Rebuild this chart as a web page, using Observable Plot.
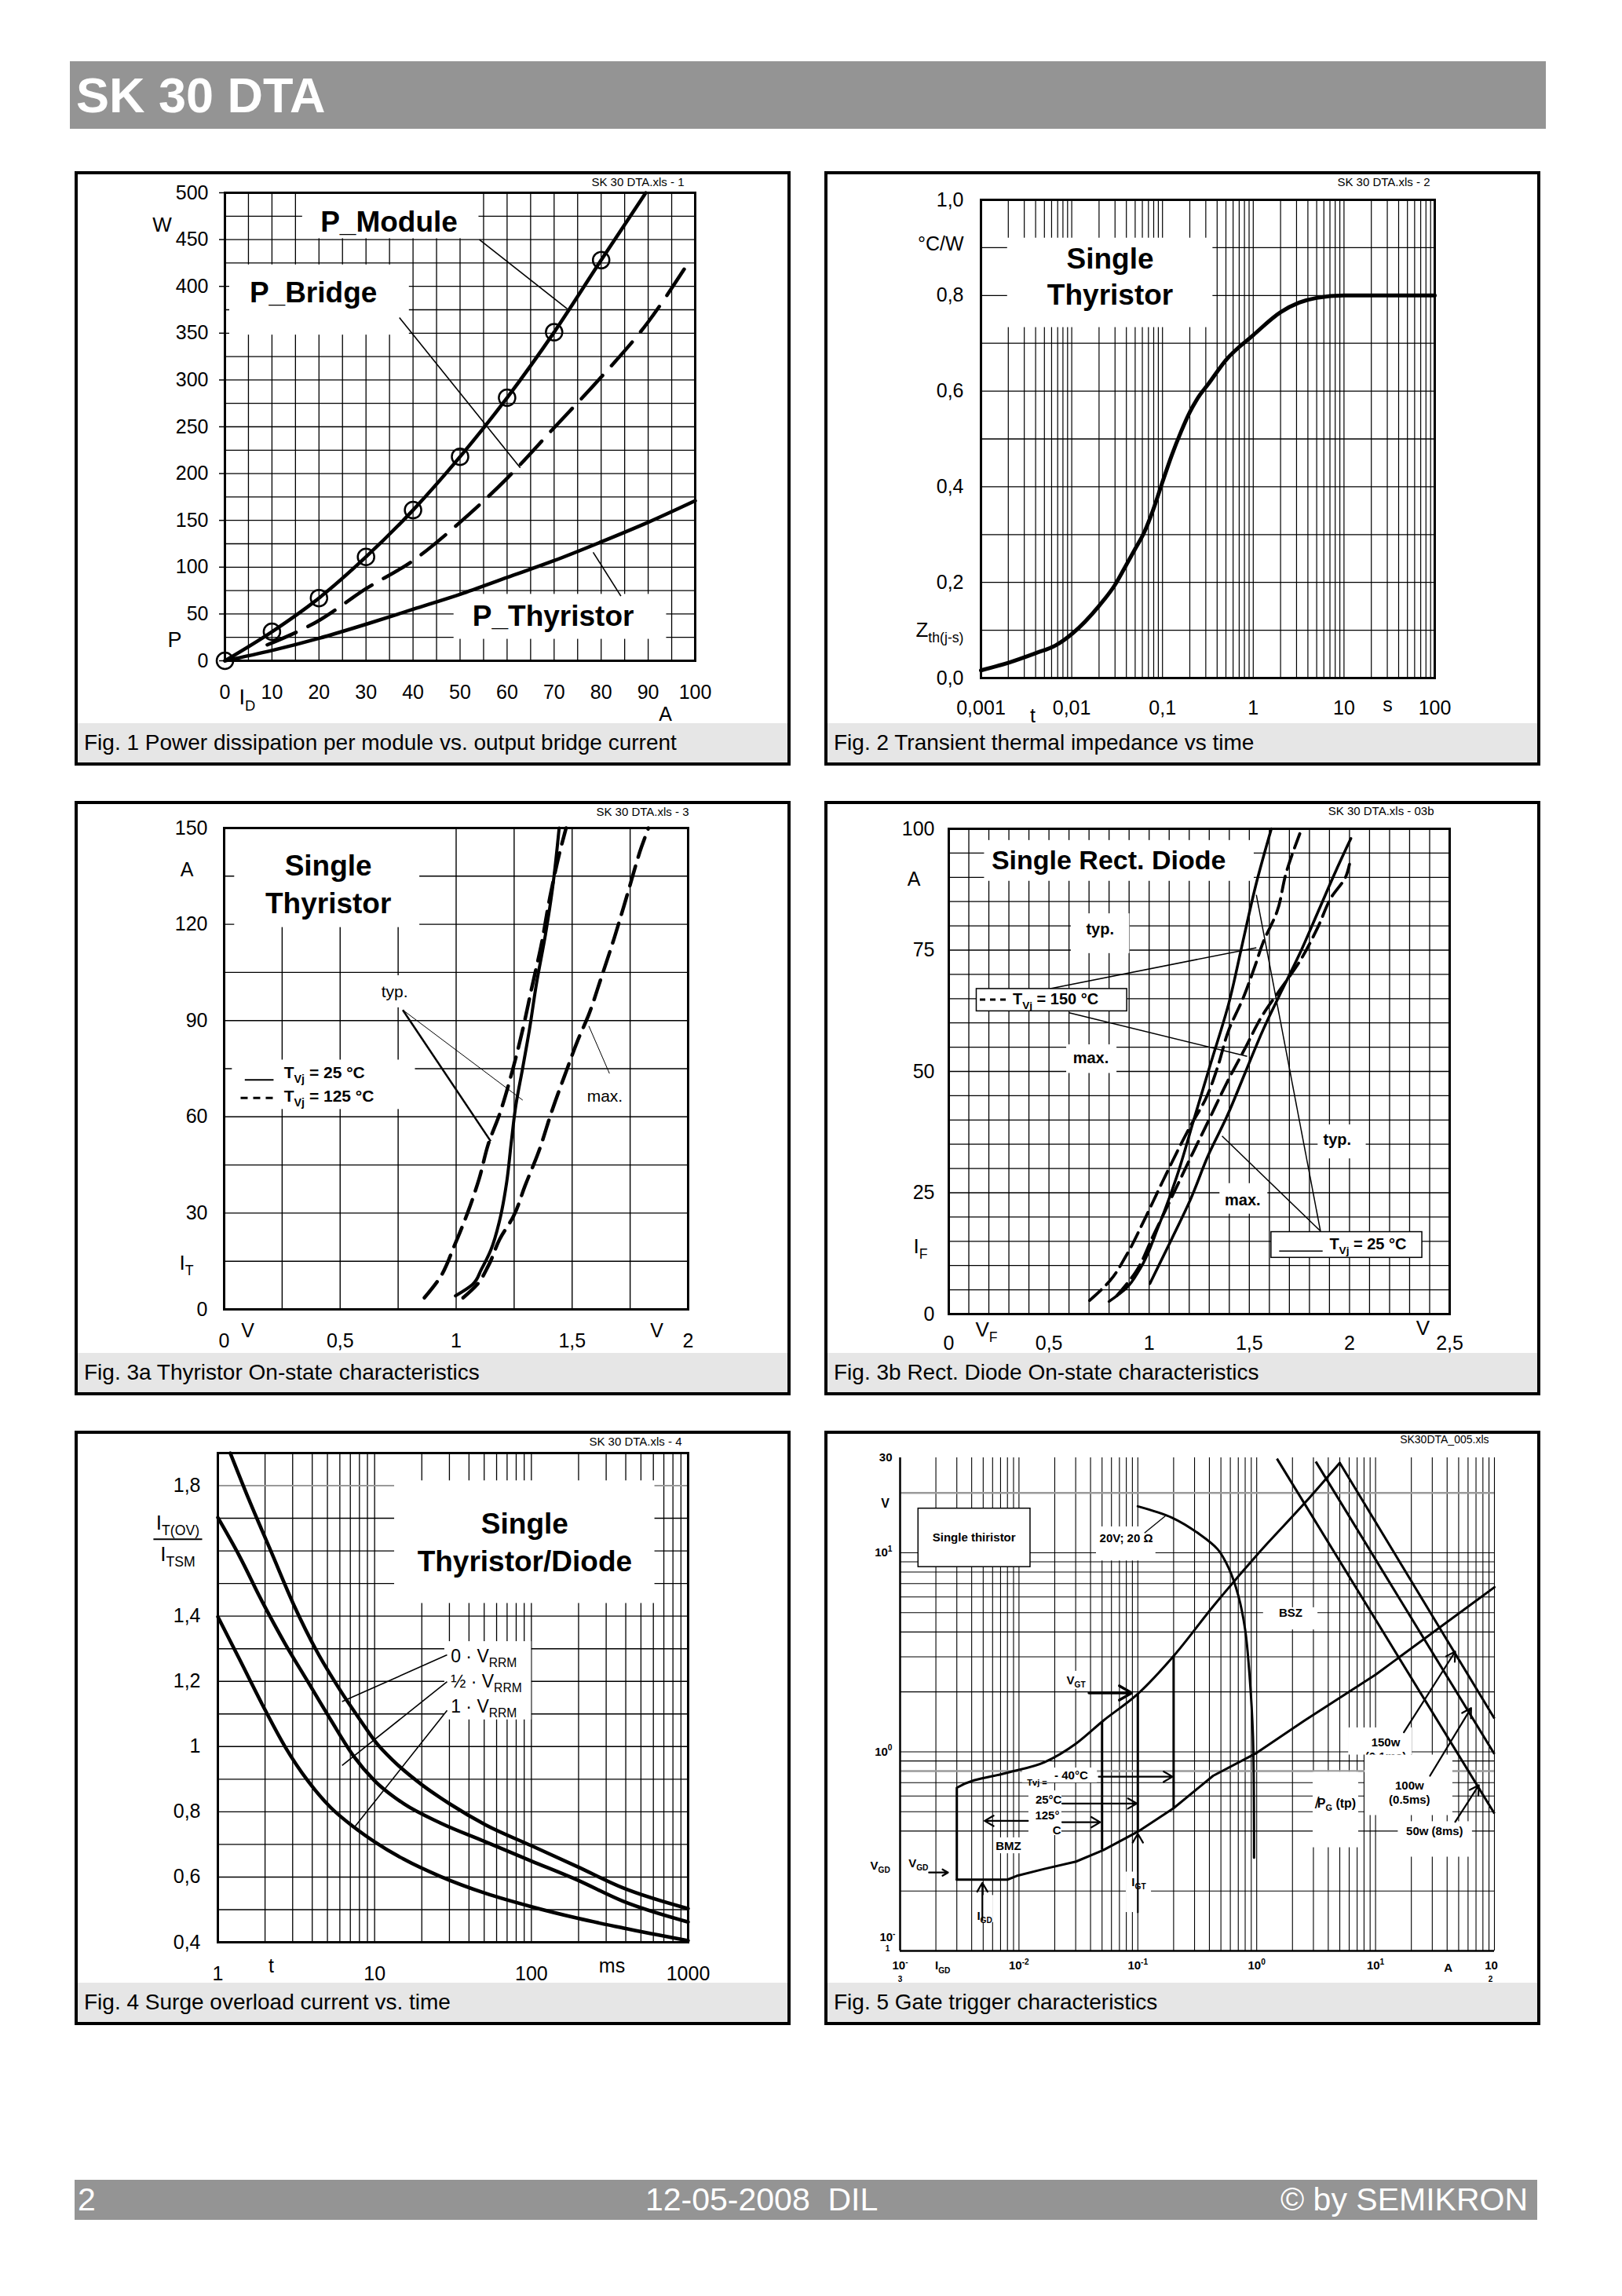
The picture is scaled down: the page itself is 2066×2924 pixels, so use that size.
<!DOCTYPE html>
<html><head><meta charset="utf-8">
<script src="https://cdn.jsdelivr.net/npm/d3@7"></script>
<script src="https://cdn.jsdelivr.net/npm/@observablehq/plot@0.6"></script>
<style>
html,body{margin:0;padding:0;background:#fff;}
body{width:2066px;height:2924px;position:relative;overflow:hidden;font-family:'Liberation Sans',Arial,Helvetica,sans-serif;}
.bar{position:absolute;background:#949494;color:#fff;}
.txt{position:absolute;color:#fff;white-space:pre;}
.panel{position:absolute;width:912px;height:757px;border:4px solid #000;box-sizing:border-box;background:#fff;}
.panel svg{display:block;}
.cap{height:50px;background:#e6e6e6;font-size:28px;line-height:50px;padding-left:8px;white-space:nowrap;color:#000;}
</style></head><body>
<div class="bar" style="left:89px;top:78px;width:1880px;height:86px;"></div>
<div class="txt" style="left:97px;top:78px;height:86px;line-height:86px;font-size:63px;font-weight:bold;">SK 30 DTA</div>
<div class="bar" style="left:95px;top:2776px;width:1863px;height:51px;"></div>
<div class="txt" style="left:99px;top:2776px;line-height:51px;font-size:41px;">2</div>
<div class="txt" style="left:822px;top:2776px;line-height:51px;font-size:41px;">12-05-2008  DIL</div>
<div class="txt" style="right:120px;top:2776px;line-height:51px;font-size:41px;">© by SEMIKRON</div>
<script>
const FONT = "'Liberation Sans', Arial, Helvetica, sans-serif";
const comma = d => String(d).replace(".", ",");

// ---------------- Fig. 1 data ----------------
const f1ModuleI = [0, 10, 20, 30, 40, 50, 60, 70, 80, 89.5];
const f1ModuleP = [0, 31, 67, 111, 161, 218, 281, 351, 428, 500];
const f1MarkerI = [0, 10, 20, 30, 40, 50, 60, 70, 80];
const f1MarkerP = [0, 31, 67, 111, 161, 218, 281, 351, 428];
const f1BridgeI = [9, 20, 30, 40, 50, 60, 70, 80, 90, 98];
const f1BridgeP = [17, 43, 77, 107, 148, 195, 249, 303, 362, 421];
const f1ThyI = [0, 10, 20, 30, 40, 50, 60, 70, 80, 90, 100];
const f1ThyP = [0, 11, 24, 39, 55, 71, 89, 107, 127, 148, 171];
const f1XTicks = [0, 10, 20, 30, 40, 50, 60, 70, 80, 90, 100];
const f1YTicks = [0, 50, 100, 150, 200, 250, 300, 350, 400, 450, 500];
const f1Labels = [
  {x: 34.9, y: 468, text: "P_Module"},
  {x: 18.8, y: 392.6, text: "P_Bridge"},
  {x: 69.8, y: 47, text: "P_Thyristor"}
];
const f1Boxes = [
  {x1: 16.5, x2: 54, y1: 451, y2: 500},
  {x1: 1, x2: 39.2, y1: 348, y2: 423},
  {x1: 48.7, x2: 93.9, y1: 23, y2: 71}
];
const f1Leaders = [
  {x1: 54.1, y1: 450, x2: 72.8, y2: 376},
  {x1: 37.1, y1: 366.7, x2: 62.8, y2: 206.1},
  {x1: 84.2, y1: 69.1, x2: 78.3, y2: 115.9}
];

// ---------------- Fig. 2 data ----------------
const f2Time = [0.001, 0.002, 0.004, 0.0066, 0.01, 0.02, 0.03, 0.04, 0.05, 0.063, 0.08, 0.1, 0.126, 0.16, 0.2, 0.25, 0.32, 0.5, 1, 2, 3.2, 5, 10, 100];
const f2Zth = [0.016, 0.032, 0.052, 0.068, 0.092, 0.151, 0.195, 0.237, 0.27, 0.305, 0.355, 0.41, 0.465, 0.515, 0.556, 0.588, 0.615, 0.665, 0.717, 0.765, 0.785, 0.795, 0.8, 0.8];
const f2XTicks = [0.001, 0.01, 0.1, 1, 10, 100];
const f2XLabels = {0.001: "0,001", 0.01: "0,01", 0.1: "0,1", 1: "1", 10: "10", 100: "100"};
const f2YTicks = [0, 0.2, 0.4, 0.6, 0.8, 1.0];
const f2Box = [{x1: 0.00196, x2: 0.359, y1: 0.733, y2: 0.92}];
const f2Labels = [{x: 0.0265, y: 0.8765, text: "Single"}, {x: 0.0265, y: 0.80, text: "Thyristor"}];

// ---------------- Fig. 3a data ----------------
const f3aTyp25V = [0.997, 1.07, 1.109, 1.149, 1.188, 1.218, 1.237, 1.257, 1.287, 1.316, 1.346, 1.385, 1.415, 1.444];
const f3aTyp25I = [4.2, 7.7, 12.5, 18.4, 27.9, 39.7, 51.6, 63.4, 75.3, 87.2, 101.4, 116.8, 131, 150];
const f3aTyp125V = [0.863, 0.932, 0.991, 1.05, 1.1, 1.139, 1.188, 1.237, 1.287, 1.326, 1.366, 1.405, 1.444, 1.474];
const f3aTyp125I = [3.6, 10.1, 19.6, 30.2, 40.9, 51.6, 61, 72.9, 87.2, 100.2, 113.2, 128.7, 141.7, 150];
const f3aMax125V = [1.03, 1.09, 1.139, 1.188, 1.247, 1.297, 1.356, 1.415, 1.474, 1.523, 1.572, 1.622, 1.681, 1.74, 1.799, 1.829];
const f3aMax125I = [3.6, 7.7, 13.6, 21.9, 29, 38.5, 49.2, 62.3, 74.1, 83.6, 91.9, 102.6, 115.6, 129.8, 144.1, 150];
const f3aXTicks = [0, 0.5, 1, 1.5, 2];
const f3aYTicks = [0, 30, 60, 90, 120, 150];
const f3aBoxes = [
  {x1: 0.045, x2: 0.843, y1: 119, y2: 150},
  {x1: 0.035, x2: 0.824, y1: 62.3, y2: 77.7},
  {x1: 0.66, x2: 0.82, y1: 94, y2: 104}
];
const f3aLeadersThick = [{x1: 0.770, y1: 93.3, x2: 1.149, y2: 52.4}];
const f3aLeadersThin = [{x1: 0.770, y1: 93.3, x2: 1.287, y2: 65.2}, {x1: 1.661, y1: 73.5, x2: 1.572, y2: 88.3}];
const f3aLegendSolid = [{x1: 0.089, x2: 0.213, y: 71.5}];
const f3aLegendDash = [{x1: 0.071, x2: 0.223, y: 65.9}];
const f3aBig = [{x: 0.449, y: 138.1, text: "Single"}, {x: 0.449, y: 126.3, text: "Thyristor"}];
const f3aSmall = [{x: 0.735, y: 99, text: "typ."}, {x: 1.641, y: 66.4, text: "max."}];
const f3aLegendText = [{x: 0.258, y: 73.8, text: "T_{Vj} = 25 °C"}, {x: 0.258, y: 66.4, text: "T_{Vj} = 125 °C"}];

// ---------------- Fig. 3b data ----------------
const f3bTyp25V = [0.80, 0.885, 0.953, 1.045, 1.136, 1.227, 1.307, 1.398, 1.467, 1.535, 1.61];
const f3bTyp25I = [2.6, 5.3, 9.2, 17.9, 28.1, 40.6, 51.6, 64.1, 76.6, 88.8, 100];
const f3bTyp150V = [0.703, 0.805, 0.885, 0.976, 1.067, 1.204, 1.284, 1.341, 1.398, 1.467, 1.524, 1.569, 1.638, 1.683, 1.752];
const f3bTyp150I = [2.8, 6.9, 12, 19.4, 27.3, 38.6, 44.5, 50.8, 58.6, 64.9, 71.2, 76.6, 82.9, 90.8, 99];
const f3bMax25V = [1.004, 1.113, 1.204, 1.296, 1.387, 1.478, 1.569, 1.66, 1.752, 1.843, 1.934, 2.007];
const f3bMax25I = [6.3, 15.5, 23.4, 32.8, 40.6, 49.6, 58.6, 66.5, 74.3, 82.9, 91.5, 98];
const f3bMax150V = [0.839, 0.93, 1.022, 1.113, 1.204, 1.296, 1.387, 1.478, 1.569, 1.66, 1.752, 1.843, 1.911, 1.98, 2.0];
const f3bMax150I = [3.8, 8.5, 16.3, 24.1, 32, 39.8, 47.6, 54.7, 61.8, 67.2, 72.7, 79.8, 86, 90, 92.7];
const f3bXTicks = [0, 0.5, 1, 1.5, 2, 2.5];
const f3bYTicks = [0, 25, 50, 75, 100];
const f3bBoxes = [
  {x1: 0.178, x2: 1.524, y1: 89.2, y2: 97.6},
  {x1: 0.611, x2: 0.903, y1: 74.3, y2: 82.5},
  {x1: 0.588, x2: 0.839, y1: 49.6, y2: 55.5},
  {x1: 1.843, x2: 2.083, y1: 32, y2: 39},
  {x1: 1.353, x2: 1.592, y1: 20.6, y2: 26.9}
];
const f3bLegendBoxes = [
  {x1: 0.139, x2: 0.890, y1: 62.4, y2: 67.0},
  {x1: 1.61, x2: 2.363, y1: 11.6, y2: 16.9}
];
const f3bLeaders = [
  {x1: 0.497, y1: 67.0, x2: 1.535, y2: 75.5},
  {x1: 0.600, y1: 62.1, x2: 1.489, y2: 53.1},
  {x1: 1.535, y1: 86.4, x2: 1.855, y2: 17.1},
  {x1: 1.364, y1: 36.7, x2: 1.855, y2: 17.1}
];
const f3bLegendDash = [{x1: 0.155, x2: 0.303, y: 64.8}];
const f3bLegendSolid = [{x1: 1.649, x2: 1.866, y: 13.0}];
const f3bSmall = [
  {x: 0.755, y: 79.2, text: "typ."}, {x: 0.709, y: 52.7, text: "max."},
  {x: 1.939, y: 35.9, text: "typ."}, {x: 1.467, y: 23.5, text: "max."}
];
const f3bLegendText = [{x: 0.319, y: 64.8, text: "T_{Vj} = 150 °C"}, {x: 1.9, y: 14.4, text: "T_{Vj} = 25 °C"}];

// ---------------- Fig. 4 data ----------------
const f4T0 = [1.2, 1.57, 2.19, 3.06, 4.28, 5.99, 8.4, 10, 13.4, 20, 30, 51, 100, 196, 383, 1000];
const f4Y0 = [1.9, 1.76, 1.597, 1.433, 1.292, 1.175, 1.07, 1.018, 0.953, 0.883, 0.825, 0.76, 0.696, 0.632, 0.567, 0.503];
const f4T = [1, 1.37, 1.92, 2.68, 3.75, 5.25, 7.34, 10, 15.3, 26.2, 51, 100, 196, 383, 1000];
const f4YHalf = [1.702, 1.585, 1.444, 1.316, 1.199, 1.082, 0.971, 0.895, 0.825, 0.766, 0.708, 0.649, 0.591, 0.526, 0.462];
const f4YOne = [1.398, 1.269, 1.129, 1.0, 0.895, 0.813, 0.754, 0.708, 0.655, 0.602, 0.55, 0.509, 0.474, 0.444, 0.405];
const f4XTicks = [1, 10, 100, 1000];
const f4YTicks = [0.4, 0.6, 0.8, 1, 1.2, 1.4, 1.8];
const f4Boxes = [
  {x1: 13.4, x2: 613, y1: 1.439, y2: 1.815},
  {x1: 28, x2: 100, y1: 1.082, y2: 1.322}
];
const f4Leaders = [
  {x1: 29, y1: 1.281, x2: 6.2, y2: 1.138},
  {x1: 29, y1: 1.199, x2: 6.2, y2: 0.942},
  {x1: 29, y1: 1.111, x2: 7.33, y2: 0.749}
];
const f4Big = [{x: 90.7, y: 1.681, text: "Single"}, {x: 90.7, y: 1.567, text: "Thyristor/Diode"}];
const f4Vrrm = [
  {x: 30.6, y: 1.277, text: "0 · V_{RRM}"},
  {x: 30.6, y: 1.199, text: "½ · V_{RRM}"},
  {x: 30.6, y: 1.123, text: "1 · V_{RRM}"}
];
const f4FracLine = [{x1: 0.388, x2: 0.794, y: 1.636}];

// ---------------- Fig. 5 data ----------------
const f5UpperI = [0.003, 0.003, 0.008, 0.0163, 0.0302, 0.0513, 0.1, 0.2, 0.43, 1.04, 2.52, 5.0];
const f5UpperV = [0.228, 0.66, 0.786, 0.885, 1.10, 1.435, 1.955, 3.03, 5.38, 9.98, 17.7, 28.3];
const f5LowerI = [0.003, 0.008, 0.00955, 0.0163, 0.0302, 0.0513, 0.1, 0.2, 0.43, 1.0, 2.52, 10, 100];
const f5LowerV = [0.228, 0.228, 0.238, 0.258, 0.281, 0.321, 0.397, 0.521, 0.758, 0.988, 1.435, 2.44, 6.71];
const f5Verticals = [{i: 0.05, v1: 0.321, v2: 1.42}, {i: 0.1, v1: 0.397, v2: 1.955}, {i: 0.2, v1: 0.521, v2: 3.03}];
const f5LoadI = [0.1, 0.194, 0.33, 0.47, 0.58, 0.70, 0.80, 0.87, 0.93, 0.95];
const f5LoadV = [17.1, 15.0, 12.4, 10.4, 8.4, 6.1, 4.1, 2.44, 1.2, 0.294];
const f5Power = [
  {w: "50w", i1: 1.48, v1: 29.7, i2: 100, v2: 0.49},
  {w: "100w", i1: 3.14, v1: 28.7, i2: 100, v2: 0.975},
  {w: "150w", i1: 5.0, v1: 28.3, i2: 100, v2: 1.47}
];
const f5Arrows = [
  {x1: 0.0469, y1: 0.75, x2: 0.196, y2: 0.75},
  {x1: 0.0231, y1: 0.55, x2: 0.0981, y2: 0.55},
  {x1: 0.0231, y1: 0.443, x2: 0.0483, y2: 0.443},
  {x1: 0.0119, y1: 0.45, x2: 0.00514, y2: 0.45},
  {x1: 0.00175, y1: 0.2475, x2: 0.00253, y2: 0.2475},
  {x1: 0.00492, y1: 0.1424, x2: 0.00492, y2: 0.2199},
  {x1: 0.1, y1: 0.1562, x2: 0.1, y2: 0.388},
  {x1: 17.3, y1: 1.254, x2: 46.8, y2: 3.19},
  {x1: 28.7, y1: 0.758, x2: 63.7, y2: 1.66},
  {x1: 46.8, y1: 0.445, x2: 74, y2: 0.68}
];
const f5ArrowVGT = [{x1: 0.0388, y1: 1.976, x2: 0.0888, y2: 1.976}];
const f5LoadLeader = [{x1: 0.1138, y1: 12.56, x2: 0.17, y2: 15.3}];
const f5Box150 = [{x1: 5.93, x2: 20.3, y1: 0.964, y2: 1.32}];
const f5Boxes = [
  {x1: 0.0448, x2: 0.1417, y1: 9.1, y2: 13.5},
  {x1: 1.14, x2: 3.27, y1: 4.1, y2: 5.3},
  {x1: 0.0242, x2: 0.0394, y1: 2.06, y2: 2.54},
  {x1: 0.0107, x2: 0.0456, y1: 0.698, y2: 0.83},
  {x1: 0.0121, x2: 0.0229, y1: 0.38, y2: 0.637},
  {x1: 0.0063, x2: 0.0109, y1: 0.308, y2: 0.37},
  {x1: 0.0799, x2: 0.13, y1: 0.156, y2: 0.249},
  {x1: 0.0045, x2: 0.0061, y1: 0.139, y2: 0.19},
  {x1: 2.98, x2: 7.2, y1: 0.33, y2: 0.79},
  {x1: 8.14, x2: 44.6, y1: 0.479, y2: 0.964},
  {x1: 15.5, x2: 65.2, y1: 0.296, y2: 0.446}
];
const f5ThirBox = [{x1: 0.001425, x2: 0.01248, y1: 8.477, y2: 16.67}];
const f5Texts = [
  {x: 0.00419, y: 11.88, text: "Single thiristor"},
  {x: 0.0799, y: 11.77, text: "20V; 20 Ω"},
  {x: 1.93, y: 4.98, text: "BSZ"},
  {x: 0.0302, y: 2.29, text: "V_{GT}"},
  {x: 0.0275, y: 0.758, text: "- 40°C"},
  {x: 0.01776, y: 0.571, text: "25°C"},
  {x: 0.0173, y: 0.477, text: "125°"},
  {x: 0.0208, y: 0.404, text: "C"},
  {x: 0.00815, y: 0.3345, text: "BMZ"},
  {x: 0.001425, y: 0.276, text: "V_{GD}"},
  {x: 0.00514, y: 0.1498, text: "I_{GD}"},
  {x: 0.1018, y: 0.2205, text: "I_{GT}"},
  {x: 12.17, y: 1.114, text: "150w"},
  {x: 19.3, y: 0.675, text: "100w"},
  {x: 19.3, y: 0.571, text: "(0.5ms)"},
  {x: 31.4, y: 0.4, text: "50w (8ms)"}
];
const f5Clipped = [{x: 12.17, y: 0.949, text: "(0.1ms)"}];
const f5Tvj = [{x: 0.01422, y: 0.70, text: "Tvj ="}];
const f5PG = [{x: 3.23, y: 0.551, text: "P_{G} (tp)"}];
const f5PGslash = [{x: 3.08, y: 0.551, text: "/"}];
const f5XTicks = [0.01, 0.1, 1, 10];
const f5XLabels = {0.01: "10^{-2}", 0.1: "10^{-1}", 1: "10^{0}", 10: "10^{1}"};
const f5YTicks = [30, 10, 1];
const f5YLabels = {30: "30", 10: "10^{1}", 1: "10^{0}"};
const f5GridY = [0.2, 0.4, 0.5, 0.6, 0.7, 0.9, 1, 2, 3, 4, 5, 6, 7, 8, 9, 10];
const f5GridYGray = [0.8, 20];

// ---------------- helpers ----------------
const pts = (xs, ys) => xs.map((x, i) => ({x, y: ys[i]}));
const logGrid = (lo, hi) => {
  const out = [];
  for (let e = lo; e < hi; e++) for (let m = 1; m < 10; m++) out.push(+(m * Math.pow(10, e)).toPrecision(6));
  out.push(Math.pow(10, hi));
  return out;
};
const lab = (text, anchor, dx, dy, o = {}) =>
  Plot.text([text], {text: d => d, frameAnchor: anchor, dx, dy, textAnchor: "middle", lineAnchor: "middle", ...o});
const style = (size, extra = {}) => ({fontFamily: FONT, fontSize: size, color: "#000", background: "#fff", overflow: "visible", ...extra});
const K = "#000";

function richify(root) {
  const NS = "http://www.w3.org/2000/svg";
  const els = Array.from(root.querySelectorAll("text, tspan"));
  for (const el of els) {
    if (el.children.length) continue;
    const s = el.textContent;
    if (!/[_^]\{/.test(s)) continue;
    const fs = parseFloat(getComputedStyle(el).fontSize) || 20;
    el.textContent = "";
    const re = /([_^])\{([^}]*)\}/g;
    let last = 0, m, shift = 0;
    const add = (txt, size, target) => {
      const t = document.createElementNS(NS, "tspan");
      t.textContent = txt;
      if (size) t.setAttribute("font-size", size);
      const d = target - shift;
      if (d) t.setAttribute("dy", d);
      shift = target;
      el.appendChild(t);
    };
    while ((m = re.exec(s))) {
      if (m.index > last) add(s.slice(last, m.index), null, 0);
      add(m[2], fs * 0.68, m[1] === "_" ? fs * 0.28 : -fs * 0.42);
      last = re.lastIndex;
    }
    if (last < s.length) add(s.slice(last), null, 0);
  }
}

function addPanel(left, top, caption, svg) {
  const div = document.createElement("div");
  div.className = "panel";
  div.style.left = left + "px";
  div.style.top = top + "px";
  div.appendChild(svg);
  const cap = document.createElement("div");
  cap.className = "cap";
  cap.textContent = caption;
  div.appendChild(cap);
  document.body.appendChild(div);
  richify(svg);
}

// ---------------- Fig. 1 ----------------
const fig1 = Plot.plot({
  width: 904, height: 699, marginLeft: 187, marginRight: 118, marginTop: 23, marginBottom: 80,
  style: style("25px"),
  x: {domain: [0, 100]}, y: {domain: [0, 500]},
  marks: [
    Plot.ruleX(d3.range(0, 101, 5), {stroke: K, strokeWidth: 1.3}),
    Plot.ruleY(d3.range(0, 501, 25), {stroke: K, strokeWidth: 1.3}),
    Plot.rect(f1Boxes, {x1: "x1", x2: "x2", y1: "y1", y2: "y2", fill: "#fff"}),
    Plot.link(f1Leaders, {x1: "x1", y1: "y1", x2: "x2", y2: "y2", stroke: K, strokeWidth: 1.6}),
    Plot.line(pts(f1ThyI, f1ThyP), {x: "x", y: "y", curve: "monotone-x", stroke: K, strokeWidth: 4.5}),
    Plot.line(pts(f1ModuleI, f1ModuleP), {x: "x", y: "y", curve: "monotone-x", stroke: K, strokeWidth: 4.5}),
    Plot.line(pts(f1BridgeI, f1BridgeP), {x: "x", y: "y", curve: "monotone-x", stroke: K, strokeWidth: 4.5, strokeDasharray: "40,17"}),
    Plot.dot(pts(f1MarkerI, f1MarkerP), {x: "x", y: "y", r: 10.5, stroke: K, strokeWidth: 2.5, fill: "none"}),
    Plot.text(f1Labels, {x: "x", y: "y", text: "text", fontSize: 37, fontWeight: "bold"}),
    Plot.frame({stroke: K, strokeWidth: 3}),
    Plot.axisY(f1YTicks, {tickSize: 7, tickPadding: 14, label: null, strokeWidth: 1.5}),
    Plot.axisX(f1XTicks, {tickSize: 0, tickPadding: 31, label: null}),
    lab("W", "top-left", -80, 41, {fontSize: 26}),
    lab("P", "bottom-left", -64, -26, {fontSize: 27}),
    lab("I_{D}", "bottom-left", 18, 47, {fontSize: 27, textAnchor: "start"}),
    lab("A", "bottom-right", -38, 68, {fontSize: 25}),
    lab("SK 30 DTA.xls - 1", "top-right", -14, -13, {fontSize: 15, textAnchor: "end"})
  ]
});
addPanel(95, 218, "Fig. 1 Power dissipation per module vs. output bridge current", fig1);

// ---------------- Fig. 2 ----------------
const fig2 = Plot.plot({
  width: 904, height: 699, marginLeft: 195, marginRight: 131, marginTop: 32, marginBottom: 58,
  style: style("25px"),
  x: {type: "log", domain: [0.001, 100]}, y: {domain: [0, 1]},
  marks: [
    Plot.ruleX(logGrid(-3, 2), {stroke: K, strokeWidth: 1.2}),
    Plot.ruleY(d3.range(0, 11).map(d => d / 10), {stroke: K, strokeWidth: 1.3}),
    Plot.rect(f2Box, {x1: "x1", x2: "x2", y1: "y1", y2: "y2", fill: "#fff"}),
    Plot.line(pts(f2Time, f2Zth), {x: "x", y: "y", curve: "monotone-x", stroke: K, strokeWidth: 5}),
    Plot.text(f2Labels, {x: "x", y: "y", text: "text", fontSize: 37, fontWeight: "bold"}),
    Plot.frame({stroke: K, strokeWidth: 3}),
    Plot.axisY(f2YTicks, {tickSize: 0, tickPadding: 22, label: null, tickFormat: d => d.toFixed(1).replace(".", ",")}),
    Plot.axisX(f2XTicks, {tickSize: 0, tickPadding: 29, label: null, tickFormat: d => f2XLabels[d]}),
    lab("°C/W", "top-left", -22, 56, {textAnchor: "end"}),
    lab("Z_{th(j-s)}", "bottom-left", -22, -61, {textAnchor: "end", fontSize: 26}),
    lab("t", "bottom-left", 66, 48),
    lab("s", "bottom-left", 518, 34),
    lab("SK 30 DTA.xls - 2", "top-right", -6, -22, {fontSize: 15, textAnchor: "end"})
  ]
});
addPanel(1050, 218, "Fig. 2 Transient thermal impedance vs time", fig2);

// ---------------- Fig. 3a ----------------
const fig3a = Plot.plot({
  width: 904, height: 699, marginLeft: 186, marginRight: 127, marginTop: 30, marginBottom: 56,
  style: style("25px"),
  x: {domain: [0, 2]}, y: {domain: [0, 150]},
  marks: [
    Plot.ruleX(d3.range(0, 9).map(d => d * 0.25), {stroke: K, strokeWidth: 1.4}),
    Plot.ruleY(d3.range(0, 151, 15), {stroke: K, strokeWidth: 1.4}),
    Plot.rect(f3aBoxes, {x1: "x1", x2: "x2", y1: "y1", y2: "y2", fill: "#fff"}),
    Plot.link(f3aLeadersThick, {x1: "x1", y1: "y1", x2: "x2", y2: "y2", stroke: K, strokeWidth: 2.5}),
    Plot.link(f3aLeadersThin, {x1: "x1", y1: "y1", x2: "x2", y2: "y2", stroke: K, strokeWidth: 1}),
    Plot.line(pts(f3aTyp25V, f3aTyp25I), {x: "x", y: "y", curve: "monotone-y", stroke: K, strokeWidth: 4}),
    Plot.line(pts(f3aTyp125V, f3aTyp125I), {x: "x", y: "y", curve: "monotone-y", stroke: K, strokeWidth: 4.5, strokeDasharray: "26,12"}),
    Plot.line(pts(f3aMax125V, f3aMax125I), {x: "x", y: "y", curve: "monotone-y", stroke: K, strokeWidth: 4.5, strokeDasharray: "26,12"}),
    Plot.link(f3aLegendSolid, {x1: "x1", x2: "x2", y1: "y", y2: "y", stroke: K, strokeWidth: 2}),
    Plot.link(f3aLegendDash, {x1: "x1", x2: "x2", y1: "y", y2: "y", stroke: K, strokeWidth: 3, strokeDasharray: "9,7"}),
    Plot.text(f3aBig, {x: "x", y: "y", text: "text", fontSize: 37, fontWeight: "bold"}),
    Plot.text(f3aSmall, {x: "x", y: "y", text: "text", fontSize: 21}),
    Plot.text(f3aLegendText, {x: "x", y: "y", text: "text", fontSize: 21, fontWeight: "bold", textAnchor: "start"}),
    Plot.frame({stroke: K, strokeWidth: 3}),
    Plot.axisY(f3aYTicks, {tickSize: 0, tickPadding: 21, label: null}),
    Plot.axisX(f3aXTicks, {tickSize: 0, tickPadding: 31, label: null, tickFormat: comma}),
    lab("A", "top-left", -39, 53, {textAnchor: "end"}),
    lab("I_{T}", "bottom-left", -39, -59, {textAnchor: "end", fontSize: 26}),
    lab("V", "bottom-left", 30, 27),
    lab("V", "bottom-right", -40, 27),
    lab("SK 30 DTA.xls - 3", "top-right", 1, -20, {fontSize: 15, textAnchor: "end"})
  ]
});
addPanel(95, 1020, "Fig. 3a Thyristor On-state characteristics", fig3a);

// ---------------- Fig. 3b ----------------
const fig3b = Plot.plot({
  width: 904, height: 699, marginLeft: 154, marginRight: 112, marginTop: 31, marginBottom: 50,
  style: style("25px"),
  x: {domain: [0, 2.5]}, y: {domain: [0, 100]},
  marks: [
    Plot.ruleX(d3.range(0, 26).map(d => d / 10), {stroke: K, strokeWidth: 1.3}),
    Plot.ruleY(d3.range(0, 101, 5), {stroke: K, strokeWidth: 1.3}),
    Plot.rect(f3bBoxes, {x1: "x1", x2: "x2", y1: "y1", y2: "y2", fill: "#fff"}),
    Plot.link(f3bLeaders, {x1: "x1", y1: "y1", x2: "x2", y2: "y2", stroke: K, strokeWidth: 1.5}),
    Plot.line(pts(f3bTyp25V, f3bTyp25I), {x: "x", y: "y", curve: "monotone-y", stroke: K, strokeWidth: 3.5}),
    Plot.line(pts(f3bMax25V, f3bMax25I), {x: "x", y: "y", curve: "monotone-y", stroke: K, strokeWidth: 3.5}),
    Plot.line(pts(f3bTyp150V, f3bTyp150I), {x: "x", y: "y", curve: "monotone-y", stroke: K, strokeWidth: 3.8, strokeDasharray: "20,9"}),
    Plot.line(pts(f3bMax150V, f3bMax150I), {x: "x", y: "y", curve: "monotone-y", stroke: K, strokeWidth: 3.8, strokeDasharray: "20,9"}),
    Plot.rect(f3bLegendBoxes, {x1: "x1", x2: "x2", y1: "y1", y2: "y2", fill: "#fff", stroke: K, strokeWidth: 1.5}),
    Plot.link(f3bLegendDash, {x1: "x1", x2: "x2", y1: "y", y2: "y", stroke: K, strokeWidth: 3, strokeDasharray: "7,6"}),
    Plot.link(f3bLegendSolid, {x1: "x1", x2: "x2", y1: "y", y2: "y", stroke: K, strokeWidth: 1.5}),
    Plot.text([{x: 0.798, y: 93.5}], {x: "x", y: "y", text: () => "Single Rect. Diode", fontSize: 34, fontWeight: "bold"}),
    Plot.text(f3bSmall, {x: "x", y: "y", text: "text", fontSize: 20, fontWeight: "bold"}),
    Plot.text(f3bLegendText, {x: "x", y: "y", text: "text", fontSize: 20, fontWeight: "bold", textAnchor: "start"}),
    Plot.frame({stroke: K, strokeWidth: 3}),
    Plot.axisY(f3bYTicks, {tickSize: 0, tickPadding: 18, label: null}),
    Plot.axisX(f3bXTicks, {tickSize: 0, tickPadding: 28, label: null, tickFormat: comma}),
    lab("A", "top-left", -36, 64, {textAnchor: "end"}),
    lab("I_{F}", "bottom-left", -27, -86, {textAnchor: "end", fontSize: 26}),
    lab("V_{F}", "bottom-left", 34, 20, {textAnchor: "start", fontSize: 26}),
    lab("V", "bottom-right", -34, 18, {fontSize: 26}),
    lab("SK 30 DTA.xls - 03b", "top-right", -20, -22, {fontSize: 15, textAnchor: "end"})
  ]
});
addPanel(1050, 1020, "Fig. 3b Rect. Diode On-state characteristics", fig3b);

// ---------------- Fig. 4 ----------------
const fig4 = Plot.plot({
  width: 904, height: 699, marginLeft: 178, marginRight: 127, marginTop: 24, marginBottom: 52,
  style: style("25px"),
  x: {type: "log", domain: [1, 1000]}, y: {domain: [0.4, 1.9]},
  marks: [
    Plot.ruleX(logGrid(0, 3), {stroke: K, strokeWidth: 1.3}),
    Plot.ruleY(d3.range(4, 20).map(d => d / 10).filter(d => d !== 1.8), {stroke: K, strokeWidth: 1.4}),
    Plot.ruleY([1.8], {stroke: "#999", strokeWidth: 2}),
    Plot.rect(f4Boxes, {x1: "x1", x2: "x2", y1: "y1", y2: "y2", fill: "#fff"}),
    Plot.link(f4Leaders, {x1: "x1", y1: "y1", x2: "x2", y2: "y2", stroke: K, strokeWidth: 1.6}),
    Plot.line(pts(f4T0, f4Y0), {x: "x", y: "y", curve: "monotone-x", stroke: K, strokeWidth: 4.5}),
    Plot.line(pts(f4T, f4YHalf), {x: "x", y: "y", curve: "monotone-x", stroke: K, strokeWidth: 4.5}),
    Plot.line(pts(f4T, f4YOne), {x: "x", y: "y", curve: "monotone-x", stroke: K, strokeWidth: 4.5}),
    Plot.text(f4Big, {x: "x", y: "y", text: "text", fontSize: 37, fontWeight: "bold"}),
    Plot.text(f4Vrrm, {x: "x", y: "y", text: "text", fontSize: 23, textAnchor: "start"}),
    Plot.link(f4FracLine, {x1: "x1", x2: "x2", y1: "y", y2: "y", stroke: K, strokeWidth: 2}),
    Plot.frame({stroke: K, strokeWidth: 3}),
    Plot.axisY(f4YTicks, {tickSize: 0, tickPadding: 22, label: null, tickFormat: d => d === 1 ? "1" : comma(d)}),
    Plot.axisX(f4XTicks, {tickSize: 0, tickPadding: 31, label: null, tickFormat: d => String(d)}),
    lab("I_{T(OV)}", "top-left", -51, 89, {fontSize: 26}),
    lab("I_{TSM}", "top-left", -51, 129, {fontSize: 26}),
    lab("t", "bottom-left", 68, 30),
    lab("ms", "bottom-left", 502, 30),
    lab("SK 30 DTA.xls - 4", "top-right", -8, -14, {fontSize: 15, textAnchor: "end"})
  ]
});
addPanel(95, 1822, "Fig. 4 Surge overload current vs. time", fig4);

// ---------------- Fig. 5 ----------------
const fig5 = Plot.plot({
  width: 904, height: 699, marginLeft: 92, marginRight: 55, marginTop: 30, marginBottom: 41,
  style: style("15px", {fontWeight: "bold"}),
  x: {type: "log", domain: [0.001, 100]}, y: {type: "log", domain: [0.1, 30]},
  marks: [
    Plot.ruleX(logGrid(-3, 2), {stroke: K, strokeWidth: 1.1}),
    Plot.ruleY(f5GridY, {stroke: K, strokeWidth: 1.1}),
    Plot.ruleY(f5GridYGray, {stroke: "#9a9a9a", strokeWidth: 2.5}),
    Plot.rect(f5Box150, {x1: "x1", x2: "x2", y1: "y1", y2: "y2", fill: "#fff"}),
    Plot.text(f5Clipped, {x: "x", y: "y", text: "text", fontSize: 15}),
    Plot.rect(f5Boxes, {x1: "x1", x2: "x2", y1: "y1", y2: "y2", fill: "#fff"}),
    Plot.rect(f5ThirBox, {x1: "x1", x2: "x2", y1: "y1", y2: "y2", fill: "#fff", stroke: K, strokeWidth: 1.5}),
    Plot.ruleX([0.001], {stroke: K, strokeWidth: 2.5}),
    Plot.ruleY([0.1], {stroke: K, strokeWidth: 2.5}),
    Plot.line(pts(f5UpperI, f5UpperV), {x: "x", y: "y", curve: "monotone-x", stroke: K, strokeWidth: 3}),
    Plot.line(pts(f5LowerI, f5LowerV), {x: "x", y: "y", curve: "linear", stroke: K, strokeWidth: 3}),
    Plot.ruleX(f5Verticals, {x: "i", y1: "v1", y2: "v2", stroke: K, strokeWidth: 3}),
    Plot.line(pts(f5LoadI, f5LoadV), {x: "x", y: "y", curve: "catmull-rom", stroke: K, strokeWidth: 3}),
    Plot.link(f5Power, {x1: "i1", y1: "v1", x2: "i2", y2: "v2", stroke: K, strokeWidth: 3}),
    Plot.link(f5LoadLeader, {x1: "x1", y1: "y1", x2: "x2", y2: "y2", stroke: K, strokeWidth: 1.3}),
    Plot.arrow(f5Arrows, {x1: "x1", y1: "y1", x2: "x2", y2: "y2", stroke: K, strokeWidth: 2.2, headLength: 9}),
    Plot.arrow(f5ArrowVGT, {x1: "x1", y1: "y1", x2: "x2", y2: "y2", stroke: K, strokeWidth: 3.5, headLength: 10}),
    Plot.text(f5Texts, {x: "x", y: "y", text: "text", fontSize: 15}),
    Plot.text(f5Tvj, {x: "x", y: "y", text: "text", fontSize: 11}),
    Plot.text(f5PG, {x: "x", y: "y", text: "text", fontSize: 16, textAnchor: "start"}),
    Plot.text(f5PGslash, {x: "x", y: "y", text: "text", fontSize: 21, fontWeight: "normal", textAnchor: "start"}),
    Plot.axisY(f5YTicks, {tickSize: 0, tickPadding: 10, label: null, tickFormat: d => f5YLabels[d]}),
    Plot.axisX(f5XTicks, {tickSize: 0, tickPadding: 13, label: null, tickFormat: d => f5XLabels[d]}),
    Plot.text([{y: 17.7}], {y: "y", text: () => "V", frameAnchor: "left", dx: -19, textAnchor: "middle", lineAnchor: "middle", fontSize: 16}),
    Plot.text([{y: 0.267}], {y: "y", text: () => "V_{GD}", frameAnchor: "left", dx: -38, textAnchor: "start", lineAnchor: "middle", fontSize: 15}),
    Plot.text([{x: 0.00228}], {x: "x", text: () => "I_{GD}", frameAnchor: "bottom", dy: 19, textAnchor: "middle", lineAnchor: "middle", fontSize: 15}),
    Plot.text([{x: 40.9}], {x: "x", text: () => "A", frameAnchor: "bottom", dy: 22, textAnchor: "middle", lineAnchor: "middle", fontSize: 15}),
    lab("10^{-}", "bottom-left", 0, 19, {fontSize: 15}),
    lab("3", "bottom-left", 0, 36, {fontSize: 10}),
    lab("10", "bottom-right", -4, 19, {fontSize: 15}),
    lab("2", "bottom-right", -5, 36, {fontSize: 10}),
    lab("10^{-}", "bottom-left", -6, -17, {fontSize: 15, textAnchor: "end"}),
    lab("1", "bottom-left", -16, -3, {fontSize: 10}),
    lab("SK30DTA_005.xls", "top-right", -7, -23, {fontSize: 14, fontWeight: "normal", textAnchor: "end"})
  ]
});
addPanel(1050, 1822, "Fig. 5 Gate trigger characteristics", fig5);
</script>
</body></html>
